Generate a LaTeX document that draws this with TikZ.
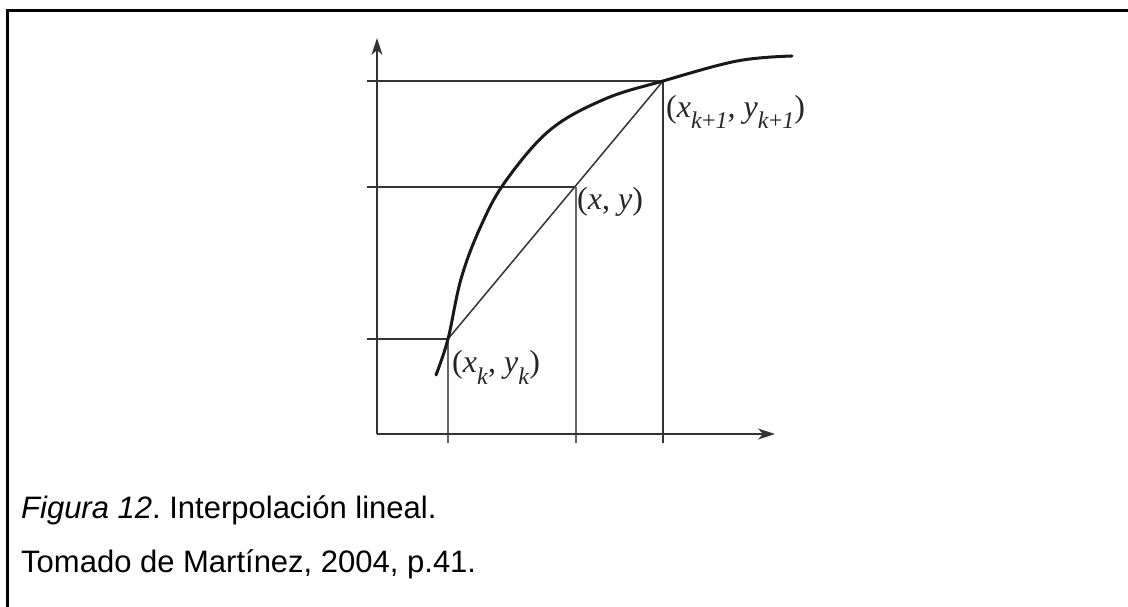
\documentclass[tikz,border=0pt]{standalone}
\usepackage{fontspec}
\setmainfont{Liberation Serif}
\newfontfamily\capfont{Liberation Sans}
\usetikzlibrary{arrows.meta}
\frenchspacing
\begin{document}
\begin{tikzpicture}[x=1pt,y=-1pt,
  frameline/.style={line width=3pt,black},
  axisline/.style={line width=1.6pt,black!80,-{Stealth[length=17pt,width=11pt,inset=5pt]}},
  gridline/.style={line width=1.5pt,black!80},
  vline/.style={line width=1.7pt,black!60},
  curveline/.style={line width=3pt,black!90,line cap=round},
  lbl/.style={anchor=base west,inner sep=0pt,font=\fontsize{32}{38}\selectfont,text=black!85},
  captext/.style={anchor=base west,inner sep=0pt,font=\capfont\fontsize{31}{37}\selectfont}]
\useasboundingbox (0,0) rectangle (1128,607);
% frame
\coordinate (F1) at (7.5,607);
\coordinate (F2) at (7.5,11);
\coordinate (F3) at (1128,11);
\draw[frameline] (F1) -- (F2) -- (F3);
% points
\coordinate (O) at (377,434);
\coordinate (Ytip) at (377,38);
\coordinate (Xtip) at (775,434);
\coordinate (Pk) at (448,339);
\coordinate (P) at (576,187);
\coordinate (Pk1) at (663,81);
\coordinate (Hk) at (367,339);
\coordinate (H) at (367,187);
\coordinate (Hk1) at (367,81);
\coordinate (Vk) at (448,443);
\coordinate (V) at (576,443);
\coordinate (Vk1) at (663,443);
% grid lines
\draw[gridline] (Hk1) -- (Pk1);
\draw[gridline] (H) -- (P);
\draw[gridline] (Hk) -- (Pk);
\draw[vline] (Pk) -- (Vk);
\draw[vline] (P) -- (V);
\draw[gridline] (Pk1) -- (Vk1);
\draw[gridline] (Pk) -- (Pk1);
% axes
\draw[axisline] (O) -- (Ytip);
\draw[axisline] (O) -- (Xtip);
% curve
\draw[curveline] plot[smooth,tension=0.6] coordinates {(436,375) (Pk) (461,279) (480,228) (505,182) (550,130) (605,99) (Pk1) (737,61) (792,56)};
% labels
\node[lbl] (Lk1) at (666,118) {(\textit{x}\raisebox{-0.34em}{\fontsize{24}{24}\selectfont\textit{k}+\textit{1}}, \textit{y}\raisebox{-0.34em}{\fontsize{24}{24}\selectfont\textit{k}+\textit{1}})};
\node[lbl] (L) at (577,209) {(\textit{x}, \textit{y})};
\node[lbl] (Lk) at (452,372) {(\textit{x}\raisebox{-0.38em}{\fontsize{24}{24}\selectfont\textit{k}}, \textit{y}\raisebox{-0.38em}{\fontsize{24}{24}\selectfont\textit{k}})};
% caption
\node[captext] (C1) at (21,518) {\textit{Figura 12}. Interpolación lineal.};
\node[captext] (C2) at (21,572) {Tomado de Martínez, 2004, p.41.};
\end{tikzpicture}
\end{document}
